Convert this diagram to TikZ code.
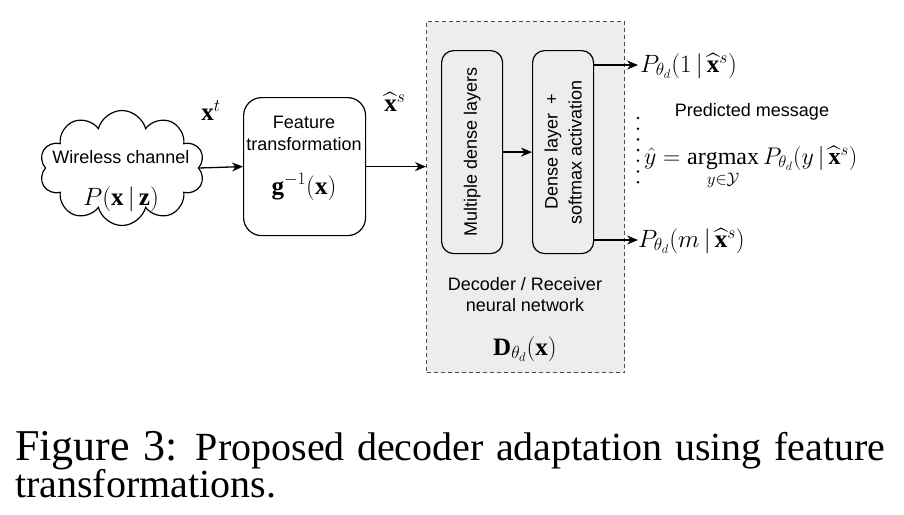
\RequirePackage{fix-cm}
\documentclass[tikz,border=0pt]{standalone}
\usepackage{amsmath,amssymb}
\usepackage{fontspec}
\setmainfont{Liberation Serif}
\setsansfont{Liberation Sans}
\usetikzlibrary{shapes.symbols,arrows.meta}
\begin{document}
\begin{tikzpicture}[x=1pt,y=-1pt,
 lbl/.style={font=\fontsize{18}{21}\selectfont\sffamily, align=center, inner sep=0},
 mth/.style={font=\fontsize{25}{28}\selectfont, inner sep=0},
 rbox/.style={draw, line width=1.2pt, rounded corners=12pt, anchor=north west},
 arr/.style={line width=1.3pt, -{Stealth[length=11pt,width=9pt]}}]
\useasboundingbox (0,0) rectangle (904,514);
% decoder container
\node[draw=black!70, dash pattern=on 4pt off 3pt, fill=gray!14, line width=1pt,
  minimum width=198, minimum height=351, anchor=north west, inner sep=0] (dec) at (426,21) {};
% cloud
\node[cloud, draw, cloud puffs=10, aspect=1.45, minimum width=165, minimum height=115,
  line width=1.2pt] (cloud) at (122,168) {};
\node[lbl] (wc) at (121,157) {Wireless channel};
\node[mth] (pxz) at (121,199) {$P(\mathbf{x}\,|\,\mathbf{z})$};
% feature transformation
\node[rbox, rounded corners=18pt, minimum width=122, minimum height=138] (feat) at (243,97) {};
\node[lbl, font=\fontsize{18}{22}\selectfont\sffamily] (ft) at (304,133) {Feature\\transformation};
\node[mth] (g) at (304,187) {$\mathbf{g}^{-1}(\mathbf{x})$};
% inner boxes
\node[rbox, minimum width=61, minimum height=203] (mult) at (441,50) {};
\node[rbox, minimum width=61, minimum height=203] (dense) at (532,50) {};
\node[lbl, rotate=90] (multt) at (mult.center) {Multiple dense layers};
\node[lbl, rotate=90, font=\fontsize{18}{24}\selectfont\sffamily] (denset) at (dense.center) {Dense layer\enspace+\\softmax activation};
\node[lbl, font=\fontsize{18}{21}\selectfont\sffamily] (dect) at (525,295) {Decoder / Receiver\\neural network};
\node[mth] (D) at (525,349) {$\mathbf{D}_{\theta_d}(\mathbf{x})$};
% connectors
\draw[arr] (cloud.east) -- (feat.west);
\node[mth] (xt) at (211,111) {$\mathbf{x}^t$};
\draw[arr] (feat.east) -- (feat.east -| dec.west);
\node[mth] (xs) at (395,102) {$\widehat{\mathbf{x}}^s$};
\draw[arr] (mult.east) -- (dense.west);
\coordinate (o1) at (638,65);
\coordinate (om) at (638,240);
\draw[arr] (dense.east |- o1) -- (o1);
\draw[arr] (dense.east |- om) -- (om);
\node[mth, anchor=west] (p1) at (640,66) {$P_{\theta_d}(1\,|\,\widehat{\mathbf{x}}^s)$};
\node[mth, anchor=west] (pm) at (638,241) {$P_{\theta_d}(m\,|\,\widehat{\mathbf{x}}^s)$};
% predicted message
\foreach \i in {0,...,6} \fill (638,118+\i*10.7) circle (1.4);
\node[lbl] (pmsg) at (752,112) {Predicted message};
\node[mth, font=\fontsize{24}{27}\selectfont, anchor=base west] (yhat) at (644,164) {$\hat{y} = \mathop{\mathrm{argmax}}\limits_{y\in\mathcal{Y}} P_{\theta_d}(y\,|\,\widehat{\mathbf{x}}^s)$};
% caption
\node[anchor=base west, inner sep=0] (cap1) at (15,460) {\makebox[870pt][s]{\fontsize{44}{46}\selectfont Figure 3:\fontsize{40}{42}\selectfont{} Proposed decoder adaptation using feature}};
\node[anchor=base west, inner sep=0] (cap2) at (15,497) {\fontsize{40}{42}\selectfont transformations.};
\end{tikzpicture}
\end{document}
